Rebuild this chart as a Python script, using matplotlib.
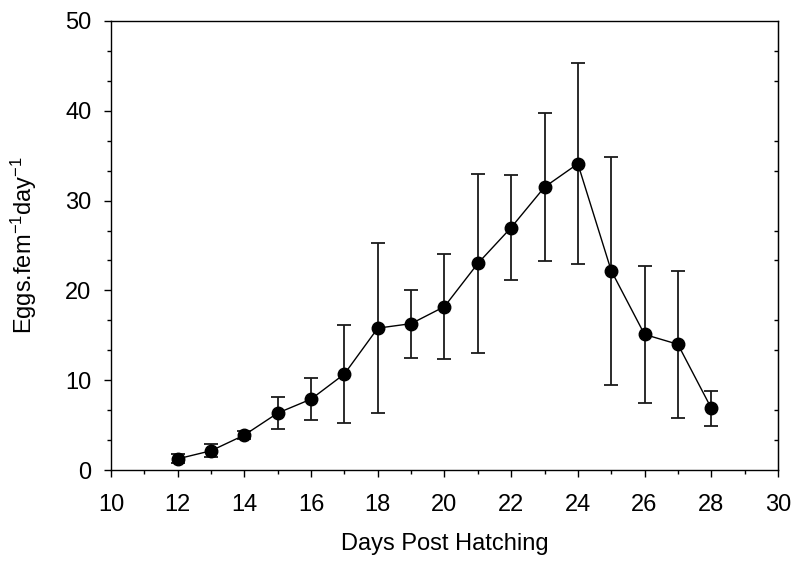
import numpy as np
import matplotlib
matplotlib.use("Agg")
from matplotlib import pyplot as plt
from matplotlib.ticker import MultipleLocator, AutoMinorLocator

plt.rcParams['font.family'] = ['Liberation Sans', 'DejaVu Sans']
plt.rcParams['mathtext.fontset'] = 'custom'
plt.rcParams['mathtext.rm'] = 'Liberation Sans'
plt.rcParams['mathtext.it'] = 'Liberation Sans'
plt.rcParams['axes.unicode_minus'] = False

# eggs per female per day, mean and error
days = [12, 13, 14, 15, 16, 17, 18, 19, 20, 21, 22, 23, 24, 25, 26, 27, 28]
eggs = [1.25, 2.15, 3.9, 6.35, 7.9, 10.7, 15.8, 16.3, 18.2, 23.0, 27.0, 31.5, 34.1, 22.2, 15.1, 14.0, 6.9]
err = [0.5, 0.7, 0.4, 1.8, 2.35, 5.5, 9.5, 3.8, 5.8, 10.0, 5.85, 8.2, 11.2, 12.7, 7.6, 8.15, 1.95]

fig = plt.figure(figsize=(7.93, 5.65), dpi=100)
ax = fig.add_axes([0.14, 0.168, 0.841, 0.795])

ax.errorbar(days, eggs, yerr=err, fmt='none', ecolor='#1a1a1a', elinewidth=1.3,
            capsize=5.3, capthick=1.3, zorder=2)
ax.plot(days, eggs, '-', color='black', lw=1.0, zorder=3)
ax.plot(days, eggs, 'o', color='black', ms=9, zorder=4)

ax.set_xlim(10, 30)
ax.set_ylim(0, 50)
ax.xaxis.set_major_locator(MultipleLocator(2))
ax.xaxis.set_minor_locator(MultipleLocator(1))
ax.yaxis.set_major_locator(MultipleLocator(10))
ax.yaxis.set_minor_locator(AutoMinorLocator(3))

for s in ax.spines.values():
    s.set_linewidth(1.0)

fs = 17
ax.tick_params(axis='both', which='major', direction='out', length=5, width=1.0,
               labelsize=fs)
ax.tick_params(axis='both', which='minor', direction='out', length=3, width=1.0)
ax.tick_params(axis='x', which='major', pad=12.5)
ax.tick_params(axis='y', which='major', pad=9)

# right spine carries inward minor ticks only
ax2 = ax.secondary_yaxis('right')
ax2.yaxis.set_major_locator(MultipleLocator(10))
ax2.yaxis.set_minor_locator(AutoMinorLocator(3))
ax2.tick_params(which='major', length=0, labelright=False)
ax2.tick_params(which='minor', direction='in', length=3, width=1.0)

ax.set_xlabel('Days Post Hatching', fontsize=fs)
ax.set_ylabel('Eggs.fem$^{-1}$day$^{-1}$', fontsize=fs)
ax.xaxis.set_label_coords(0.5, -0.139)
ax.yaxis.set_label_coords(-0.108, 0.5)

fig.savefig('out.png', dpi=100)
